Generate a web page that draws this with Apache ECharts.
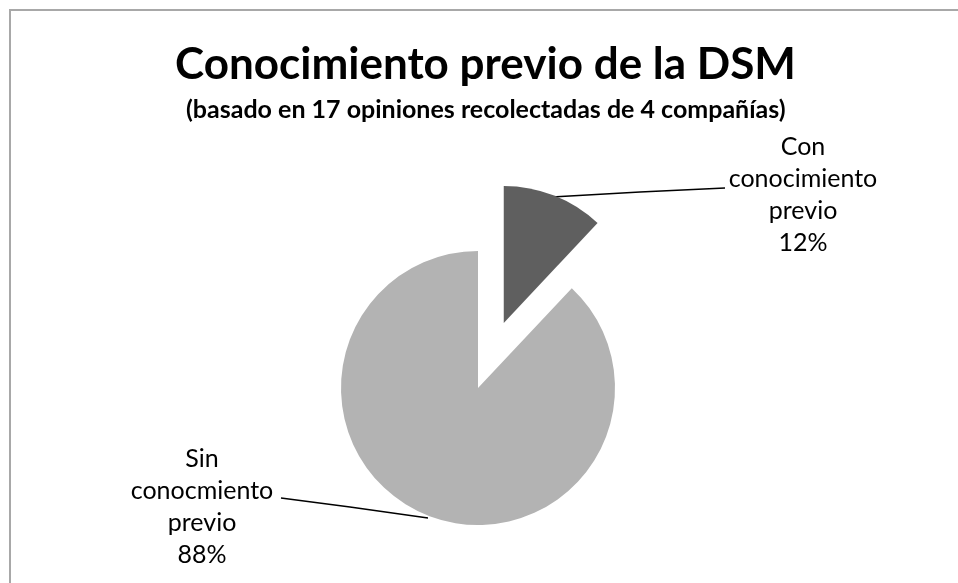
<!DOCTYPE html>
<html>
<head>
<meta charset="utf-8">
<script src="https://cdn.jsdelivr.net/npm/echarts@6/dist/echarts.min.js"></script>
<style>html,body{margin:0;padding:0;background:#fff;}#c{width:958px;height:583px;}</style>
</head>
<body>
<div id="c"></div>
<script>
const titleText = 'Conocimiento previo de la DSM';
const subtitleText = '(basado en 17 opiniones recolectadas de 4 compañías)';
const categories = ['Con\nconocimiento\nprevio', 'Sin\nconocmiento\nprevio'];
const values = [12, 88];
const colors = ['#5f5f5f', '#b3b3b3'];

const chart = echarts.init(document.getElementById('c'));
const FONT = 'Lato';
const R = 137;
const CENTER = [478, 388];
const EXPLODE = 70;
// explode the first slice along its bisector
const midAngle = (90 - (values[0] / (values[0] + values[1])) * 180) * Math.PI / 180;
const CENTER2 = [CENTER[0] + EXPLODE * Math.cos(midAngle), CENTER[1] - EXPLODE * Math.sin(midAngle)];

const labelStyle = {
  show: true, position: 'outside',
  formatter: p => p.name + '\n' + Math.round(p.percent) + '%',
  fontFamily: FONT, fontSize: 25, lineHeight: 32, color: '#000', align: 'center'
};
const labelPos = [
  {x: 803, y: 195, line: [[552, 197], [640, 192], [725, 188]]},
  {x: 202, y: 507, line: [[428, 518], [350, 507], [281, 498]]}
];

function makeSeries(shown, center) {
  return {
    type: 'pie',
    center: center,
    radius: R,
    startAngle: 90,
    clockwise: true,
    silent: true,
    data: categories.map((c, i) => ({
      name: c, value: values[i],
      itemStyle: {color: i === shown ? colors[i] : 'rgba(0,0,0,0)'},
      label: {show: i === shown},
      labelLine: {show: i === shown}
    })),
    label: labelStyle,
    labelLine: {show: true, lineStyle: {color: '#000', width: 1.3}},
    labelLayout: function (p) {
      const L = labelPos[p.dataIndex];
      return {x: L.x, y: L.y, align: 'center', verticalAlign: 'middle', labelLinePoints: L.line};
    }
  };
}

chart.setOption({
  backgroundColor: '#fff',
  animation: false,
  graphic: [{
    type: 'rect', shape: {x: 10, y: 10, width: 1000, height: 700},
    style: {fill: 'none', stroke: '#a8a8a8', lineWidth: 2}, silent: true
  }],
  title: [{
    text: titleText,
    left: 170, top: 38,
    textStyle: {fontFamily: FONT, fontWeight: 'bold', fontSize: 44, color: '#000'}
  }, {
    text: subtitleText,
    left: 181, top: 92,
    textStyle: {fontFamily: FONT, fontWeight: 'bold', fontSize: 25, color: '#000'}
  }],
  series: [makeSeries(1, CENTER), makeSeries(0, CENTER2)]
});
</script>
</body>
</html>
